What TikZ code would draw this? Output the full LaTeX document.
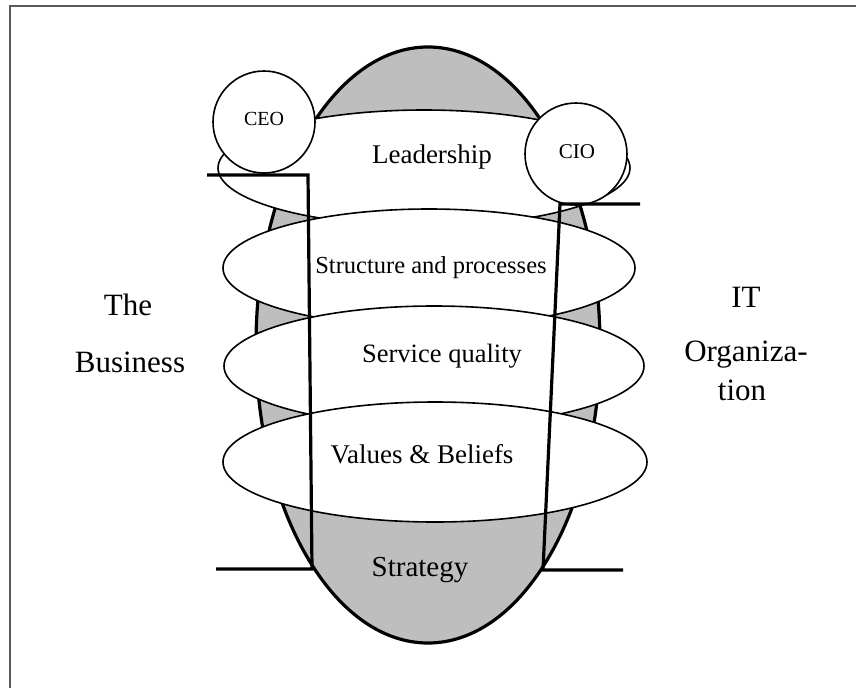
\documentclass[tikz,border=0pt]{standalone}
\usepackage{fontspec}
\setmainfont{Liberation Serif}
\usetikzlibrary{shapes.geometric}
\definecolor{coregray}{RGB}{190,190,190}
\definecolor{framegray}{RGB}{90,90,90}
\begin{document}
\begin{tikzpicture}[x=1pt,y=-1pt,
  core/.style={ellipse, draw=black, line width=3.2pt, fill=coregray, inner sep=0pt},
  ring/.style={ellipse, draw=black, line width=1.6pt, fill=white, inner sep=0pt},
  role/.style={circle, draw=black, line width=1.6pt, fill=white, inner sep=0pt, minimum size=102pt},
  border/.style={line width=3.2pt},
  lbl/.style={inner sep=0pt, anchor=center},
  side/.style={inner sep=0pt, anchor=center, font=\fontsize{31}{31}\selectfont}]
\useasboundingbox (0,0) rectangle (856,688);
\draw[line width=2.4pt, draw=framegray] (10,688) -- (10,6) -- (856,6);
% central body
\node[core, minimum width=344pt, minimum height=596pt] (core) at (428,345) {};
% rings
\node[ring, minimum width=412pt, minimum height=116pt] (lead) at (424,168) {};
\node[ring, minimum width=412pt, minimum height=118pt] (struct) at (429,268) {};
\node[ring, minimum width=420pt, minimum height=120pt] (service) at (434,366) {};
\node[ring, minimum width=424pt, minimum height=120pt] (values) at (435,462) {};
% roles
\node[role] (ceo) at (264,122) {};
\node[role] (cio) at (576,154) {};
% boundary lines
\coordinate (la) at (207,175);
\coordinate (lb) at (308,175);
\coordinate (lc) at (312,569);
\coordinate (ld) at (216,569);
\coordinate (ra) at (640,204);
\coordinate (rb) at (560,204);
\coordinate (rc) at (543,570);
\coordinate (rd) at (623,570);
\draw[border] (la) -- (lb) -- (lc) -- (ld);
\draw[border] (ra) -- (rb) -- (rc) -- (rd);
% texts
\node[lbl, font=\fontsize{20}{20}\selectfont] (ceot) at (264,119) {CEO};
\node[lbl, font=\fontsize{21}{21}\selectfont] (ciot) at (577,152) {CIO};
\node[lbl, font=\fontsize{27}{27}\selectfont] (leadt) at (432,157) {Leadership};
\node[lbl, font=\fontsize{24.5}{24.5}\selectfont] (structt) at (431,268) {Structure and processes};
\node[lbl, font=\fontsize{26.5}{26.5}\selectfont] (servicet) at (442,356) {Service quality};
\node[lbl, font=\fontsize{27}{27}\selectfont] (valuest) at (422,454) {Values \& Beliefs};
\node[lbl, font=\fontsize{29}{29}\selectfont] (strategyt) at (420,570) {Strategy};
\node[side] (the) at (128,305) {The};
\node[side] (business) at (130,362) {Business};
\node[side] (it) at (746,297) {IT};
\node[side] (org) at (746,355) {Organiza-};
\node[side] (tion) at (742,390) {tion};
\end{tikzpicture}
\end{document}
